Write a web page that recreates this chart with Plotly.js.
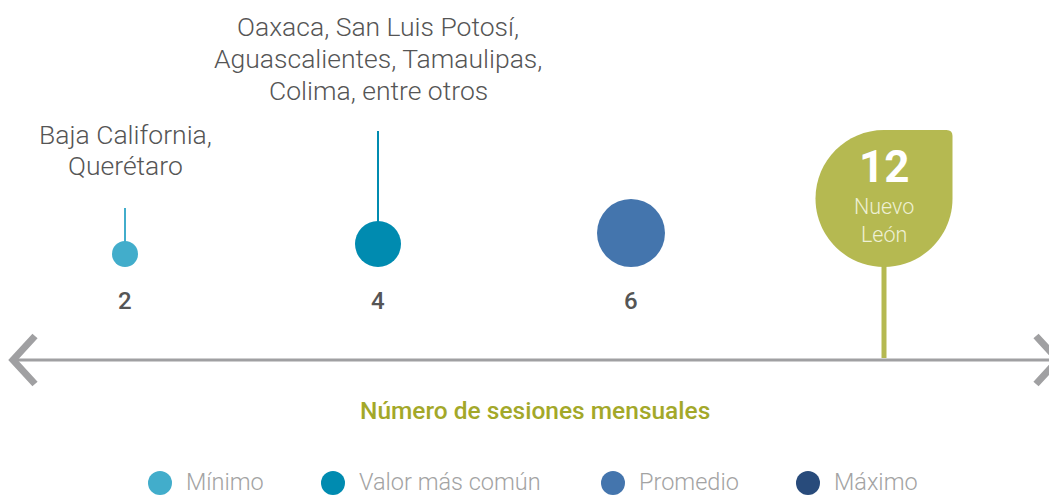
<!DOCTYPE html>
<html>
<head>
<meta charset="utf-8">
<script src="https://cdn.plot.ly/plotly-3.0.1.min.js"></script>
<style>html,body{margin:0;padding:0;background:#fff;}#chart{width:1049px;height:495px;}</style>
</head>
<body>
<div id="chart"></div>
<script>
// ---- data ----
var categories = ["2", "4", "6", "12"];
var seriesNames = ["Mínimo", "Valor más común", "Promedio", "Máximo"];
var sessionValues = [2, 4, 6, 12];
var stateLabels = [
  "Baja California,<br>Querétaro",
  "Oaxaca, San Luis Potosí,<br>Aguascalientes, Tamaulipas,<br>Colima, entre otros",
  "",
  "Nuevo<br>León"
];
var axisTitle = "Número de sesiones mensuales";

// ---- styles ----
var colors = ["#42adcb", "#008bb0", "#4475ad", "#284b7b"];
var leafColor = "#b5b951";
var bubbleSizes = [26, 46, 68];
var baseY = 267;          // bottom of bubbles (pixel)
var stemTops = [208, 131, null];
var labelFirstLineY = [134, 26];
var labelLineGap = [31, 32];
var labelFontSize = [26.5, 26.5];
var legendX = [160, 333, 613, 808];
var W = 1049;
var fontFam = "Roboto, 'Open Sans', sans-serif";

var traces = [];
// stems
for (var i = 0; i < 3; i++) {
  if (stemTops[i] !== null) {
    traces.push({
      type: "scatter", mode: "lines", x: [categories[i], categories[i]],
      y: [stemTops[i], baseY - bubbleSizes[i] + 1],
      line: {color: colors[i], width: 2}, hoverinfo: "skip", showlegend: false
    });
  }
}
// bubbles
traces.push({
  type: "scatter", mode: "markers",
  x: categories.slice(0, 3),
  y: bubbleSizes.map(function (s) { return baseY - s / 2; }),
  marker: {size: bubbleSizes, color: colors.slice(0, 3), opacity: 1, line: {width: 0}},
  showlegend: false, hoverinfo: "skip"
});
// leaf stem
traces.push({
  type: "scatter", mode: "lines", x: [categories[3], categories[3]], y: [baseY - 2, 358],
  line: {color: leafColor, width: 5}, hoverinfo: "skip", showlegend: false
});
// legend markers (manual)
traces.push({
  type: "scatter", mode: "markers", xaxis: "x2", yaxis: "y",
  x: legendX, y: seriesNames.map(function () { return 483; }),
  marker: {size: 24, color: colors, opacity: 1, line: {width: 0}}, showlegend: false, hoverinfo: "skip"
});

var r = 68.5, k = 0.5523 * r, c = 6;
var leafPath = "M0,0 C" + (-k) + ",0 " + (-r) + "," + (r - k) + " " + (-r) + "," + r +
  " C" + (-r) + "," + (r + k) + " " + (-k) + "," + (2 * r) + " 0," + (2 * r) +
  " L" + (r - c) + "," + (2 * r) + " Q" + r + "," + (2 * r) + " " + r + "," + (2 * r - c) +
  " L" + r + "," + r + " C" + r + "," + (r - k) + " " + k + ",0 0,0 Z";

var shapes = [
  {type: "line", xref: "paper", yref: "y", x0: 14 / W, x1: 1, y0: 360, y1: 360,
   line: {color: "#a0a0a2", width: 3}, layer: "below"},
  {type: "path", xref: "paper", yref: "y", path: "M" + (35 / W) + ",336 L" + (13 / W) + ",360 L" + (35 / W) + ",384",
   line: {color: "#a0a0a2", width: 7}},
  {type: "path", xref: "paper", yref: "y", path: "M" + (1036 / W) + ",336 L" + (1058 / W) + ",360 L" + (1036 / W) + ",384",
   line: {color: "#a0a0a2", width: 7}},
  {type: "path", xref: "x", yref: "y", xsizemode: "pixel", ysizemode: "pixel",
   xanchor: 3, yanchor: baseY, path: leafPath, fillcolor: leafColor, line: {width: 0}}
];

var annotations = [];
for (var j = 0; j < 3; j++) {
  annotations.push({x: j, y: 301, xref: "x", yref: "y", text: categories[j], showarrow: false,
    font: {family: fontFam, size: 24, color: "#555555", weight: 500}});
}
for (var q = 0; q < 2; q++) {
  var lines = stateLabels[q].split("<br>");
  for (var L = 0; L < lines.length; L++) {
    annotations.push({x: q, y: labelFirstLineY[q] + L * labelLineGap[q], xref: "x", yref: "y",
      text: lines[L], showarrow: false, height: labelLineGap[q],
      font: {family: fontFam, size: labelFontSize[q], color: "#555555", weight: 300}});
  }
}
annotations.push({x: 3, y: 166.5, xref: "x", yref: "y", text: "<b>" + sessionValues[3] + "</b>", showarrow: false,
  height: 36, font: {family: fontFam, size: 44, color: "#ffffff", weight: 700}});
var leafLines = stateLabels[3].split("<br>");
for (var n = 0; n < leafLines.length; n++) {
  annotations.push({x: 3, y: 206 + n * 27.5, xref: "x", yref: "y", text: leafLines[n], showarrow: false,
    height: 24, font: {family: fontFam, size: 21.5, color: "#eef0d4", weight: 300}});
}
annotations.push({x: 535 / W, y: 410, xref: "paper", yref: "y", text: axisTitle, showarrow: false,
  font: {family: fontFam, size: 24.5, color: "#a3a829", weight: 500}});
for (var m = 0; m < seriesNames.length; m++) {
  annotations.push({x: (legendX[m] + 24) / W, y: 482, xref: "paper", yref: "y", xanchor: "left",
    text: seriesNames[m], showarrow: false, height: 24,
    font: {family: fontFam, size: 23.5, color: "#a3a3a3", weight: 300}});
}

var layout = {
  width: 1049, height: 495,
  margin: {l: 0, r: 0, t: 0, b: 0},
  paper_bgcolor: "#ffffff", plot_bgcolor: "#ffffff",
  showlegend: false,
  xaxis: {type: "category", categoryarray: categories, categoryorder: "array",
    range: [-125 / 253, -125 / 253 + W / 253], visible: false, fixedrange: true},
  xaxis2: {overlaying: "x", range: [0, W], visible: false, fixedrange: true},
  yaxis: {range: [495, 0], visible: false, fixedrange: true},
  shapes: shapes,
  annotations: annotations
};

Plotly.newPlot("chart", traces, layout, {displayModeBar: false, staticPlot: true});
</script>
</body>
</html>
